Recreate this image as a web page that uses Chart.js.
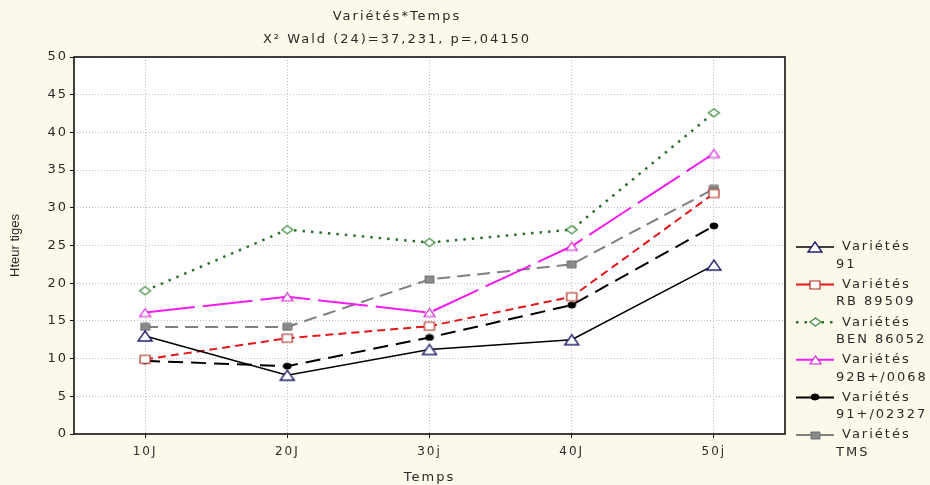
<!DOCTYPE html>
<html>
<head>
<meta charset="utf-8">
<script src="https://cdn.jsdelivr.net/npm/chart.js@4.4.1/dist/chart.umd.min.js"></script>
<style>
  html, body { margin: 0; padding: 0; background: #fcf8ea; }
  #chart { display: block; }
</style>
</head>
<body>
<canvas id="chart" width="930" height="485"></canvas>
<script>
const categories = ['10J', '20J', '30j', '40J', '50j'];
const seriesNames = ['91', 'RB 89509', 'BEN 86052', '92B+/0068', '91+/02327', 'TMS'];
const v91 = [13.0, 7.8, 11.2, 12.5, 22.4];
const vRB89509 = [9.9, 12.7, 14.3, 18.2, 31.9];
const vBEN86052 = [19.0, 27.1, 25.4, 27.1, 42.6];
const v92B0068 = [16.1, 18.2, 16.1, 24.9, 37.2];
const v9102327 = [9.7, 9.0, 12.8, 17.1, 27.6];
const vTMS = [14.2, 14.2, 20.5, 22.5, 32.5];
const yMin = 0, yMax = 50, yStep = 5;

const FONT = '"DejaVu Sans", Verdana, sans-serif';
const TEXT = '#2a2a2a';
const SPACING = '2px';

// small canvases used as point styles (the originals look wider than tall)
function marker(shape, w, h, stroke, fill, lw) {
    const pad = Math.ceil(lw);
    const c = document.createElement('canvas');
    c.width = w + pad * 2;
    c.height = h + pad * 2;
    const ctx = c.getContext('2d');
    ctx.beginPath();
    if (shape === 'triangle') {
        ctx.moveTo(pad + w / 2, pad);
        ctx.lineTo(pad + w, pad + h);
        ctx.lineTo(pad, pad + h);
        ctx.closePath();
    } else if (shape === 'rect') {
        ctx.rect(pad, pad, w, h);
    } else if (shape === 'diamond') {
        ctx.moveTo(pad + w / 2, pad);
        ctx.lineTo(pad + w, pad + h / 2);
        ctx.lineTo(pad + w / 2, pad + h);
        ctx.lineTo(pad, pad + h / 2);
        ctx.closePath();
    } else {
        ctx.ellipse(pad + w / 2, pad + h / 2, w / 2, h / 2, 0, 0, Math.PI * 2);
    }
    ctx.fillStyle = fill;
    ctx.fill();
    ctx.lineWidth = lw;
    ctx.strokeStyle = stroke;
    ctx.stroke();
    return c;
}

const series = [
    { data: v91, color: '#000000', width: 1.6, dash: [], legendDash: [],
      point: marker('triangle', 14, 10, '#20206e', '#ffffff', 1.4) },
    { data: vRB89509, color: '#e3161a', width: 2, dash: [8, 5], legendDash: [],
      point: marker('rect', 10, 8, '#b02a20', '#ffffff', 1.2) },
    { data: vBEN86052, color: '#2e6f30', width: 2.5, dash: [2.5, 6], legendDash: [2.5, 6],
      point: marker('diamond', 11, 8, '#3b8a3d', '#ffffff', 1.2) },
    { data: v92B0068, color: '#f21cf0', width: 2, dash: [50, 8], legendDash: [],
      point: marker('triangle', 11, 8, '#d61ad6', '#ffffff', 1.2) },
    { data: v9102327, color: '#000000', width: 2, dash: [15, 8], legendDash: [],
      point: marker('ellipse', 8, 6, '#000000', '#000000', 1) },
    { data: vTMS, color: '#7f7f7f', width: 2, dash: [13, 7], legendDash: [],
      point: marker('rect', 9, 7, '#707070', '#8a8a8a', 1) }
];

const backgroundPlugin = {
    id: 'background',
    beforeLayout(chart) {
        chart.ctx.letterSpacing = SPACING;
    },
    beforeDraw(chart) {
        const { ctx, chartArea: a } = chart;
        ctx.save();
        ctx.fillStyle = '#fcf8ea';
        ctx.fillRect(0, 0, chart.width, chart.height);
        ctx.fillStyle = '#ffffff';
        ctx.fillRect(a.left, a.top, a.right - a.left, a.bottom - a.top);
        ctx.restore();
        ctx.letterSpacing = SPACING;
    }
};

const framePlugin = {
    id: 'frame',
    afterDraw(chart) {
        const { ctx, chartArea: a } = chart;
        ctx.save();
        ctx.strokeStyle = '#111111';
        ctx.lineWidth = 1.6;
        ctx.strokeRect(a.left, a.top, a.right - a.left, a.bottom - a.top);

        // y axis title, not spaced out like the other texts
        ctx.letterSpacing = '0px';
        ctx.fillStyle = TEXT;
        ctx.font = '13px "Liberation Sans", Arial, sans-serif';
        ctx.textAlign = 'center';
        ctx.textBaseline = 'middle';
        ctx.translate(15, (a.top + a.bottom) / 2);
        ctx.rotate(-Math.PI / 2);
        ctx.fillText('Hteur tiges', 0, 0);
        ctx.restore();
    }
};

// legend on the right: line sample + marker, two text lines per entry
const sideLegend = {
    id: 'sideLegend',
    afterDraw(chart) {
        const ctx = chart.ctx;
        ctx.save();
        ctx.letterSpacing = SPACING;
        ctx.font = '13px ' + FONT;
        ctx.fillStyle = TEXT;
        ctx.textBaseline = 'middle';
        chart.data.datasets.forEach((ds, i) => {
            const y = 247 + i * 37.6;
            ctx.save();
            ctx.strokeStyle = ds.borderColor;
            ctx.lineWidth = ds.borderWidth;
            ctx.setLineDash(series[i].legendDash);
            ctx.beginPath();
            ctx.moveTo(796, y);
            ctx.lineTo(834, y);
            ctx.stroke();
            ctx.restore();
            const img = ds.pointStyle;
            ctx.drawImage(img, Math.round(815 - img.width / 2), Math.round(y - img.height / 2));
            ctx.fillText('Variétés', 842, y);
            ctx.fillText(seriesNames[i], 836, y + 17.5);
        });
        ctx.restore();
    }
};

new Chart(document.getElementById('chart'), {
    type: 'line',
    data: {
        labels: categories,
        datasets: series.map((s, i) => ({
            label: 'Variétés ' + seriesNames[i],
            data: s.data,
            borderColor: s.color,
            borderWidth: s.width,
            borderDash: s.dash,
            tension: 0,
            fill: false,
            pointStyle: s.point,
            pointRadius: 5,
            pointHoverRadius: 5
        }))
    },
    options: {
        responsive: false,
        animation: false,
        events: [],
        layout: { padding: { left: 9, right: 145, top: 0, bottom: 0 } },
        plugins: {
            legend: { display: false },
            tooltip: { enabled: false },
            title: {
                display: true,
                text: 'Variétés*Temps',
                color: TEXT,
                font: { family: FONT, size: 13, weight: 'normal' },
                padding: { top: 9, bottom: 7.6 }
            },
            subtitle: {
                display: true,
                text: 'X² Wald (24)=37,231, p=,04150',
                color: TEXT,
                font: { family: FONT, size: 13, weight: 'normal' },
                padding: { top: 0, bottom: 9.2 }
            }
        },
        scales: {
            x: {
                offset: true,
                afterFit: (scale) => { scale.height = 51; },
                grid: {
                    offset: false,
                    color: '#bdbdbd',
                    lineWidth: 1,
                    drawTicks: true,
                    tickLength: 4,
                    tickColor: '#111111'
                },
                border: { display: false, dash: [1, 2] },
                ticks: {
                    color: TEXT,
                    padding: 7,
                    font: { family: FONT, size: 12 }
                },
                title: {
                    display: true,
                    text: 'Temps',
                    color: TEXT,
                    font: { family: FONT, size: 13 },
                    padding: { top: 0, bottom: 0 }
                }
            },
            y: {
                min: yMin,
                max: yMax,
                afterFit: (scale) => { scale.width = 65; },
                grid: {
                    color: '#bdbdbd',
                    lineWidth: 1,
                    drawTicks: true,
                    tickLength: 4,
                    tickColor: '#111111'
                },
                border: { display: false, dash: [1, 2] },
                ticks: {
                    stepSize: yStep,
                    color: TEXT,
                    padding: 2,
                    font: { family: FONT, size: 13 }
                }
            }
        }
    },
    plugins: [backgroundPlugin, framePlugin, sideLegend]
});
</script>
</body>
</html>
